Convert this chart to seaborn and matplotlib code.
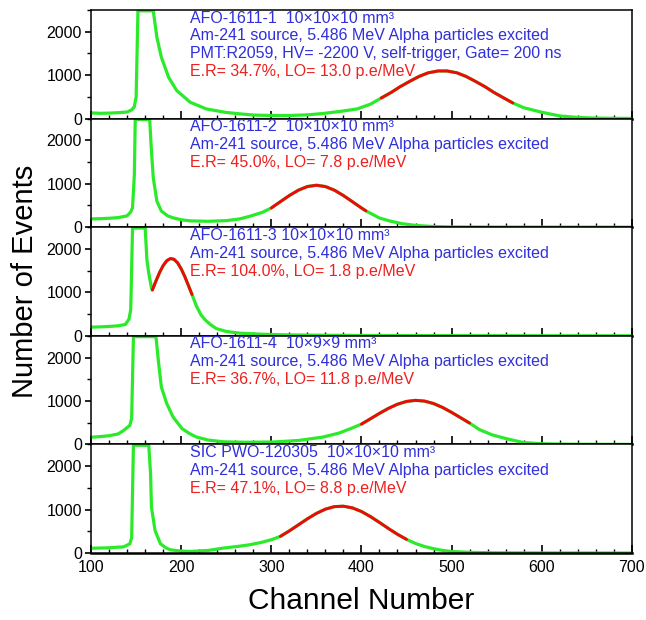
import matplotlib
matplotlib.use('Agg')
import matplotlib.pyplot as plt
from matplotlib.ticker import MultipleLocator
import seaborn as sns

# ---------------- data ----------------
ch1 = [100, 110, 120, 130, 140, 145, 148, 150, 152, 169, 173, 178, 186, 195, 210, 228, 250, 265, 280,
       300, 320, 340, 357, 375, 395, 410, 422, 433, 443, 454, 464, 474, 485, 495, 506, 516, 526, 537,
       547, 558, 568, 580, 600, 620, 640, 660, 680, 700]
cnt1 = [130, 120, 125, 135, 150, 200, 270, 500, 2480, 2480, 1870, 1410, 950, 645, 375, 220, 140, 108, 80,
        70, 70, 85, 115, 160, 220, 330, 473, 601, 734, 861, 970, 1052, 1095, 1095, 1052, 970, 861, 734,
        601, 473, 358, 250, 145, 60, 25, 10, 5, 3]
fitch1 = [422, 433, 443, 454, 464, 474, 485, 495, 506, 516, 526, 537, 547, 558, 568]
fit1 = [473, 601, 734, 861, 970, 1052, 1095, 1095, 1052, 970, 861, 734, 601, 473, 358]

ch2 = [100, 110, 120, 130, 140, 144, 146, 148, 149, 165, 167, 169, 173, 178, 185, 191, 200, 210, 230, 250,
       265, 276, 290, 300, 310, 320, 330, 340, 350, 360, 370, 380, 390, 400, 405, 410, 420, 432, 445, 460,
       480, 500, 550, 600, 700]
cnt2 = [190, 195, 205, 220, 260, 350, 450, 1200, 2480, 2480, 1750, 1135, 600, 370, 260, 215, 170, 145, 135, 150,
        190, 250, 340, 442, 586, 728, 851, 935, 965, 935, 851, 728, 586, 442, 375, 320, 210, 140, 80, 40,
        15, 5, 2, 1, 0]
fitch2 = [300, 310, 320, 330, 340, 350, 360, 370, 380, 390, 400, 405]
fit2 = [442, 586, 728, 851, 935, 965, 935, 851, 728, 586, 442, 375]

ch3 = [100, 110, 120, 130, 138, 142, 144, 146, 160, 162, 164, 167, 168, 172, 176, 180, 184, 188, 192, 196,
       200, 204, 208, 212, 217, 222, 227, 233, 239, 250, 265, 290, 320, 360, 400, 450, 500, 600, 700]
cnt3 = [200, 205, 215, 230, 260, 380, 600, 2480, 2480, 1740, 1440, 1100, 1054, 1262, 1456, 1616, 1728, 1778,
        1761, 1679, 1541, 1362, 1158, 949, 680, 480, 357, 250, 166, 100, 60, 35, 20, 12, 8, 5, 3, 1, 0]
fitch3 = [168, 172, 176, 180, 184, 188, 192, 196, 200, 204, 208, 212]
fit3 = [1054, 1262, 1456, 1616, 1728, 1778, 1761, 1679, 1541, 1362, 1158, 949]

ch4 = [100, 110, 120, 130, 136, 143, 145, 147, 172, 175, 178, 184, 191, 201, 210, 217, 230, 247, 270, 302,
       330, 357, 375, 390, 400, 410, 420, 430, 440, 450, 460, 470, 480, 490, 500, 510, 520, 531, 545, 561,
       579, 600, 630, 700]
cnt4 = [165, 180, 200, 240, 320, 437, 600, 2480, 2480, 1860, 1320, 938, 630, 362, 240, 170, 100, 60, 50, 55,
        90, 168, 260, 380, 467, 590, 715, 830, 925, 989, 1014, 997, 941, 851, 738, 615, 491, 340, 220, 131,
        45, 15, 5, 0]
fitch4 = [400, 410, 420, 430, 440, 450, 460, 470, 480, 490, 500, 510, 520]
fit4 = [467, 590, 715, 830, 925, 989, 1014, 997, 941, 851, 738, 615, 491]

ch5 = [100, 110, 120, 130, 136, 143, 145, 147, 164, 166, 167, 171, 177, 183, 188, 200, 210, 230, 247, 262,
       276, 290, 300, 310, 320, 330, 340, 350, 360, 370, 380, 390, 400, 410, 420, 430, 440, 450, 460, 470,
       480, 490, 500, 520, 550, 600, 700]
cnt5 = [110, 115, 120, 135, 140, 212, 350, 2480, 2480, 1825, 1055, 518, 212, 120, 74, 45, 37, 60, 115, 150,
        190, 250, 306, 383, 510, 648, 787, 912, 1010, 1068, 1078, 1039, 956, 839, 704, 564, 431, 315, 220, 150,
        100, 60, 35, 15, 5, 2, 0]
fitch5 = [310, 320, 330, 340, 350, 360, 370, 380, 390, 400, 410, 420, 430, 440, 450]
fit5 = [383, 510, 648, 787, 912, 1010, 1068, 1078, 1039, 956, 839, 704, 564, 431, 315]

titles = ["AFO-1611-1  10\u00d710\u00d710 mm\u00b3",
          "AFO-1611-2  10\u00d710\u00d710 mm\u00b3",
          "AFO-1611-3 10\u00d710\u00d710 mm\u00b3",
          "AFO-1611-4  10\u00d79\u00d79 mm\u00b3",
          "SIC PWO-120305  10\u00d710\u00d710 mm\u00b3"]
source_line = "Am-241 source, 5.486 MeV Alpha particles excited"
pmt_line = "PMT:R2059, HV= -2200 V, self-trigger, Gate= 200 ns"
results = ["E.R= 34.7%, LO= 13.0 p.e/MeV",
           "E.R= 45.0%, LO= 7.8 p.e/MeV",
           "E.R= 104.0%, LO= 1.8 p.e/MeV",
           "E.R= 36.7%, LO= 11.8 p.e/MeV",
           "E.R= 47.1%, LO= 8.8 p.e/MeV"]

# ---------------- style ----------------
sns.set_theme(style='ticks')
plt.rcParams['font.family'] = ['Liberation Sans', 'DejaVu Sans']
plt.rcParams['text.color'] = 'black'
plt.rcParams['axes.labelcolor'] = 'black'
plt.rcParams['xtick.color'] = 'black'
plt.rcParams['ytick.color'] = 'black'

GREEN = '#2aea2a'
RED = '#ee0a0a'
BLUE = '#2f2fdc'
TXTRED = '#ee2020'

fig = plt.figure(figsize=(6.46, 6.2), dpi=100)
gs = fig.add_gridspec(5, 1, left=0.141, right=0.978, top=0.984, bottom=0.108, hspace=0)
axes = gs.subplots(sharex=True)

panels = [(ch1, cnt1, fitch1, fit1), (ch2, cnt2, fitch2, fit2), (ch3, cnt3, fitch3, fit3),
          (ch4, cnt4, fitch4, fit4), (ch5, cnt5, fitch5, fit5)]

for i, (ax, (ch, cnt, fch, fv)) in enumerate(zip(axes, panels)):
    sns.lineplot(x=ch, y=cnt, ax=ax, color=GREEN, lw=2.3, estimator=None, sort=False)
    sns.lineplot(x=fch, y=fv, ax=ax, color=RED, lw=2.1, estimator=None, sort=False)
    ax.set_xlim(100, 700)
    ax.set_ylim(0, 2500)
    ax.set_yticks([0, 1000, 2000])
    ax.yaxis.set_minor_locator(MultipleLocator(500))
    ax.xaxis.set_major_locator(MultipleLocator(100))
    ax.xaxis.set_minor_locator(MultipleLocator(20))
    ax.tick_params(axis='x', which='both', direction='in', bottom=True, top=False,
                   labelbottom=(i == 4), labelsize=11.5, colors='black', pad=5)
    ax.tick_params(axis='x', which='major', length=6, width=1.2)
    ax.tick_params(axis='x', which='minor', length=3, width=1.0)
    ax.tick_params(axis='y', which='both', direction='out', left=True, right=False,
                   labelsize=11.5, colors='black', pad=2)
    ax.tick_params(axis='y', which='major', length=4.5, width=1.2)
    ax.tick_params(axis='y', which='minor', length=3, width=1.0)
    for s in ['left', 'top', 'right']:
        ax.spines[s].set_linewidth(1.1)
        ax.spines[s].set_color('black')
    ax.spines['bottom'].set_linewidth(1.8)
    ax.spines['bottom'].set_color('black')
    ax.set_xlabel('')
    ax.set_ylabel('')

    tr = ax.get_xaxis_transform()
    lines = [(titles[i], BLUE), (source_line, BLUE)]
    if i == 0:
        lines.append((pmt_line, BLUE))
    lines.append((results[i], TXTRED))
    ys = [0.925, 0.76, 0.595, 0.43]
    for (txt, col), yy in zip(lines, ys):
        ax.text(210, yy, txt, transform=tr, color=col, fontsize=11.5, ha='left', va='center')

fig.text(0.039, 0.546, 'Number of Events', rotation=90, ha='center', va='center',
         fontsize=21, color='black')
fig.text(0.559, 0.031, 'Channel Number', ha='center', va='center', fontsize=21.5, color='black')

fig.savefig('out.png', dpi=100)
